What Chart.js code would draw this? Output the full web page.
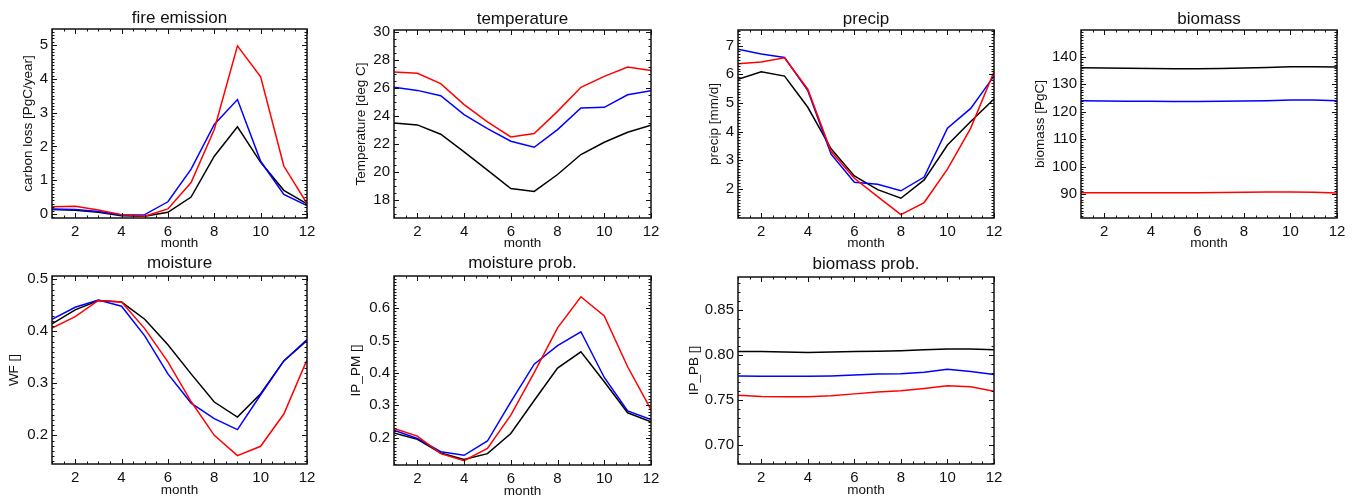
<!DOCTYPE html>
<html>
<head>
<meta charset="utf-8">
<script src="https://cdn.jsdelivr.net/npm/chart.js@4/dist/chart.umd.min.js"></script>
<style>
  html, body { margin: 0; padding: 0; background: #fff; }
  #wrap { position: relative; width: 1353px; height: 498px; overflow: hidden; }
  canvas { position: absolute; }
</style>
</head>
<body>
<div id="wrap"></div>
<script>
// months on the x axis
const months = [1, 2, 3, 4, 5, 6, 7, 8, 9, 10, 11, 12];
const monthTicks = [2, 4, 6, 8, 10, 12];

// fire emission [PgC/year]
const fireRed   = [0.21, 0.23, 0.12, -0.02, -0.07, 0.15, 0.93, 2.5, 4.98, 4.06, 1.42, 0.31];
const fireBlue  = [0.15, 0.13, 0.07, -0.03, -0.02, 0.36, 1.33, 2.65, 3.39, 1.56, 0.58, 0.25];
const fireBlack = [0.13, 0.11, 0.05, -0.05, -0.07, 0.05, 0.5, 1.71, 2.58, 1.53, 0.7, 0.3];
const fireTicks = [0, 1, 2, 3, 4, 5];

// temperature [deg C]
const tempRed   = [27.14, 27.05, 26.31, 24.81, 23.57, 22.5, 22.74, 24.33, 26.05, 26.83, 27.5, 27.26];
const tempBlue  = [26.05, 25.83, 25.45, 24.1, 23.1, 22.19, 21.76, 23.02, 24.57, 24.62, 25.52, 25.81];
const tempBlack = [23.5, 23.36, 22.69, 21.43, 20.12, 18.81, 18.6, 19.81, 21.24, 22.12, 22.83, 23.33];
const tempTicks = [18, 20, 22, 24, 26, 28, 30];

// precip [mm/d]
const precipRed   = [6.37, 6.43, 6.58, 5.48, 3.3, 2.37, 1.73, 1.1, 1.52, 2.69, 4.12, 6.09];
const precipBlue  = [6.88, 6.71, 6.59, 5.43, 3.21, 2.23, 2.16, 1.93, 2.41, 4.12, 4.81, 5.94];
const precipBlack = [5.83, 6.09, 5.94, 4.85, 3.4, 2.45, 1.97, 1.67, 2.31, 3.53, 4.35, 5.14];
const precipTicks = [2, 3, 4, 5, 6, 7];

// biomass [PgC]
const biomassRed   = [90.5, 90.5, 90.5, 90.5, 90.5, 90.5, 90.6, 90.7, 90.8, 90.8, 90.7, 90.4];
const biomassBlue  = [124.0, 123.9, 123.8, 123.8, 123.7, 123.7, 123.8, 123.9, 124.0, 124.2, 124.2, 124.0];
const biomassBlack = [136.0, 135.9, 135.8, 135.7, 135.6, 135.6, 135.7, 135.9, 136.1, 136.3, 136.3, 136.2];
const biomassTicks = [90, 100, 110, 120, 130, 140];

// moisture WF []
const moistRed   = [0.406, 0.428, 0.459, 0.456, 0.405, 0.341, 0.265, 0.2, 0.161, 0.179, 0.241, 0.345];
const moistBlue  = [0.423, 0.446, 0.46, 0.448, 0.391, 0.318, 0.262, 0.232, 0.211, 0.278, 0.343, 0.384];
const moistBlack = [0.414, 0.441, 0.459, 0.456, 0.423, 0.374, 0.318, 0.264, 0.235, 0.28, 0.343, 0.382];
const moistTicks = [0.2, 0.3, 0.4, 0.5];

// moisture prob. IP_PM []
const mprobRed   = [0.229, 0.205, 0.151, 0.129, 0.167, 0.27, 0.401, 0.539, 0.635, 0.576, 0.419, 0.287];
const mprobBlue  = [0.223, 0.198, 0.157, 0.146, 0.19, 0.311, 0.427, 0.484, 0.527, 0.386, 0.283, 0.256];
const mprobBlack = [0.215, 0.195, 0.153, 0.133, 0.151, 0.213, 0.315, 0.415, 0.465, 0.373, 0.277, 0.249];
const mprobTicks = [0.2, 0.3, 0.4, 0.5, 0.6];

// biomass prob. IP_PB []
const bprobRed   = [0.7555, 0.754, 0.7537, 0.7537, 0.755, 0.757, 0.759, 0.7605, 0.763, 0.766, 0.765, 0.76];
const bprobBlue  = [0.777, 0.7765, 0.7765, 0.7765, 0.777, 0.778, 0.779, 0.7795, 0.781, 0.7845, 0.782, 0.7785];
const bprobBlack = [0.804, 0.804, 0.8035, 0.803, 0.8035, 0.804, 0.8045, 0.805, 0.806, 0.807, 0.807, 0.806];
const bprobTicks = [0.70, 0.75, 0.80, 0.85];

const FONT = "'Liberation Sans', Arial, Helvetica, sans-serif";
const INK = '#111';

// inward IDL-style ticks on all four sides plus the frame
const frameTicks = {
  id: 'frameTicks',
  afterDatasetsDraw(chart, args, opts) {
    const { ctx, chartArea: a, scales: { x, y } } = chart;
    ctx.save();
    ctx.strokeStyle = INK;
    ctx.lineWidth = 1;
    ctx.beginPath();
    for (let k = 2; k <= 24; k++) {
      const v = k / 2;
      const px = Math.round(x.getPixelForValue(v)) + 0.5;
      const len = monthTicks.includes(v) ? 5 : 2.5;
      ctx.moveTo(px, a.bottom); ctx.lineTo(px, a.bottom - len);
      ctx.moveTo(px, a.top); ctx.lineTo(px, a.top + len);
    }
    const step = opts.minor;
    for (let k = Math.ceil(y.min / step - 1e-6); k * step <= y.max + 1e-9; k++) {
      const v = k * step;
      const py = Math.round(y.getPixelForValue(v)) + 0.5;
      const major = opts.ticks.some(t => Math.abs(t - v) < step / 10);
      const len = major ? 5 : 2.5;
      ctx.moveTo(a.left, py); ctx.lineTo(a.left + len, py);
      ctx.moveTo(a.right, py); ctx.lineTo(a.right - len, py);
    }
    ctx.stroke();
    ctx.lineWidth = 1.5;
    ctx.strokeRect(a.left, a.top, a.right - a.left, a.bottom - a.top);
    ctx.restore();
  }
};

function series(vals, color) {
  return {
    data: months.map((m, i) => ({ x: m, y: vals[i] })),
    borderColor: color,
    borderWidth: 1.5,
    pointRadius: 0,
    tension: 0,
    fill: false
  };
}

function makePanel(p) {
  const cw = p.box.r - p.cx + 16;
  const topH = p.box.t - p.cy;
  const boxH = p.box.b - p.box.t;
  const xH = 32;
  const ch = topH + boxH + xH + 2;
  const canvas = document.createElement('canvas');
  canvas.width = cw; canvas.height = ch;
  canvas.style.left = p.cx + 'px';
  canvas.style.top = p.cy + 'px';
  document.getElementById('wrap').appendChild(canvas);

  new Chart(canvas.getContext('2d'), {
    type: 'line',
    data: {
      datasets: [series(p.red, '#ff0000'), series(p.blue, '#0000ff'), series(p.black, '#000000')]
    },
    options: {
      responsive: false,
      animation: false,
      layout: { padding: { left: 0, top: 0, right: cw - (p.box.r - p.cx), bottom: ch - (topH + boxH + xH) } },
      plugins: {
        legend: { display: false },
        tooltip: { enabled: false },
        title: {
          display: true,
          text: p.title,
          fullSize: false,
          color: INK,
          font: { family: FONT, size: 17, weight: 'normal', lineHeight: 1 },
          padding: { top: topH - 17 - (p.titleGap - 8.5), bottom: p.titleGap - 8.5 }
        },
        frameTicks: { minor: p.minor, ticks: p.ticks }
      },
      scales: {
        x: {
          type: 'linear',
          min: 1, max: 12,
          afterBuildTicks: s => { s.ticks = monthTicks.map(v => ({ value: v })); },
          afterFit: s => { s.height = xH; },
          grid: { display: false, drawTicks: false },
          border: { display: false },
          ticks: { color: INK, padding: 4.5, font: { family: FONT, size: 15 }, maxRotation: 0 },
          title: {
            display: true, text: 'month', color: INK,
            font: { family: FONT, size: 13.5, lineHeight: 1 },
            padding: { top: 0, bottom: xH - p.monthGap - 6.75 }
          }
        },
        y: {
          type: 'linear',
          min: p.min, max: p.max,
          afterBuildTicks: s => { s.ticks = p.ticks.map(v => ({ value: v })); },
          afterFit: s => { s.width = p.box.l - p.cx; },
          grid: { display: false, drawTicks: false },
          border: { display: false },
          ticks: {
            color: INK, padding: 4, font: { family: FONT, size: 15 },
            callback: v => v.toFixed(p.dec)
          },
          title: {
            display: true, text: p.yTitle, color: INK,
            font: { family: FONT, size: 13.5, lineHeight: 1 },
            padding: { top: p.yTitleX - p.cx - 6.75, bottom: 0 }
          }
        }
      }
    },
    plugins: [frameTicks]
  });
}

makePanel({ title: 'fire emission', yTitle: 'carbon loss [PgC/year]', cx: 0, cy: 0,
  box: { l: 52, t: 29, r: 307, b: 218 }, min: -0.12, max: 5.48, minor: 0.1, ticks: fireTicks, dec: 0,
  red: fireRed, blue: fireBlue, black: fireBlack, yTitleX: 28, titleGap: 10.5, monthGap: 25 });

makePanel({ title: 'temperature', yTitle: 'Temperature [deg C]', cx: 340, cy: 0,
  box: { l: 394, t: 30, r: 651, b: 218 }, min: 16.7, max: 30.15, minor: 0.5, ticks: tempTicks, dec: 0,
  red: tempRed, blue: tempBlue, black: tempBlack, yTitleX: 361, titleGap: 11, monthGap: 25 });

makePanel({ title: 'precip', yTitle: 'precip [mm/d]', cx: 680, cy: 0,
  box: { l: 738, t: 30, r: 994, b: 218 }, min: 0.98, max: 7.55, minor: 0.1, ticks: precipTicks, dec: 0,
  red: precipRed, blue: precipBlue, black: precipBlack, yTitleX: 714, titleGap: 11, monthGap: 25 });

makePanel({ title: 'biomass', yTitle: 'biomass [PgC]', cx: 1015, cy: 0,
  box: { l: 1081, t: 30, r: 1337, b: 218 }, min: 81.3, max: 149.7, minor: 1, ticks: biomassTicks, dec: 0,
  red: biomassRed, blue: biomassBlue, black: biomassBlack, yTitleX: 1040, titleGap: 11, monthGap: 25 });

makePanel({ title: 'moisture', yTitle: 'WF []', cx: 0, cy: 246,
  box: { l: 52, t: 276, r: 307, b: 464 }, min: 0.145, max: 0.506, minor: 0.01, ticks: moistTicks, dec: 1,
  red: moistRed, blue: moistBlue, black: moistBlack, yTitleX: 14, titleGap: 12.5, monthGap: 26.5 });

makePanel({ title: 'moisture prob.', yTitle: 'IP_PM []', cx: 340, cy: 246,
  box: { l: 394, t: 276, r: 651, b: 465 }, min: 0.116, max: 0.699, minor: 0.01, ticks: mprobTicks, dec: 1,
  red: mprobRed, blue: mprobBlue, black: mprobBlack, yTitleX: 356, titleGap: 12.5, monthGap: 26.5 });

makePanel({ title: 'biomass prob.', yTitle: 'IP_PB []', cx: 680, cy: 246,
  box: { l: 738, t: 277, r: 994, b: 464 }, min: 0.679, max: 0.887, minor: 0.01, ticks: bprobTicks, dec: 2,
  red: bprobRed, blue: bprobBlue, black: bprobBlack, yTitleX: 694, titleGap: 12.5, monthGap: 26.5 });
</script>
</body>
</html>
